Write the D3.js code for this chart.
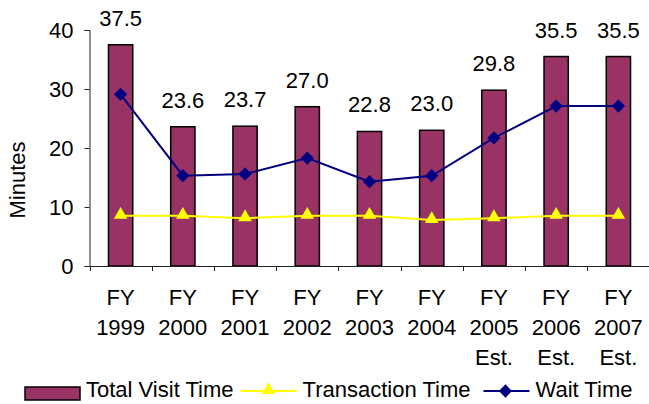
<!DOCTYPE html>
<html lang="en">
<head>
    <meta charset="UTF-8">
    <title>Visit Time</title>
    <script src="https://d3js.org/d3.v7.min.js"></script>
    <style>
        body { margin: 0; background: white; }
        text { font-family: "Liberation Sans", Arial, sans-serif; font-size: 22px; fill: black; }
    </style>
</head>
<body>
<svg width="649" height="404"></svg>
<script>
// chart data
const years = ['1999', '2000', '2001', '2002', '2003', '2004', '2005', '2006', '2007'];
const estimated = [false, false, false, false, false, false, true, true, true];
const totalVisit = [37.5, 23.6, 23.7, 27.0, 22.8, 23.0, 29.8, 35.5, 35.5];
const transaction = [8.5, 8.5, 8.1, 8.5, 8.5, 7.8, 8.1, 8.5, 8.5];
const waitTime = [29.1, 15.3, 15.6, 18.3, 14.3, 15.3, 21.7, 27.1, 27.1];
const yTicks = [0, 10, 20, 30, 40];

const svg = d3.select('svg');

const x = d3.scaleBand()
    .domain(years)
    .range([89.5, 649.5]);

const y = d3.scaleLinear()
    .domain([0, 40])
    .range([266, 30]);

const barW = x.step() * 0.39;
const cx = d => x(d) + x.step() / 2;

// bars
svg.append('g')
    .selectAll('rect')
    .data(years)
    .enter().append('rect')
    .attr('x', d => cx(d) - barW / 2)
    .attr('y', (d, i) => y(totalVisit[i]))
    .attr('width', barW)
    .attr('height', (d, i) => y(0) - y(totalVisit[i]))
    .style('fill', '#993366')
    .style('stroke', 'black')
    .style('stroke-width', 1.5);

// value labels
svg.append('g')
    .selectAll('text')
    .data(years)
    .enter().append('text')
    .attr('x', d => cx(d))
    .attr('y', (d, i) => y(totalVisit[i]) - 19)
    .attr('text-anchor', 'middle')
    .text((d, i) => totalVisit[i].toFixed(1));

// y axis
const yAxis = svg.append('g')
    .attr('transform', 'translate(89.5,0)')
    .call(d3.axisLeft(y).tickValues(yTicks).tickSize(5).tickPadding(11));
yAxis.select('.domain').attr('stroke', '#222');
yAxis.selectAll('.tick line').attr('stroke', '#222');
yAxis.selectAll('.tick text').style('font-size', '22px').attr('font-family', null);

// x axis line and boundary ticks
svg.append('line')
    .attr('x1', x.range()[0]).attr('x2', x.range()[1])
    .attr('y1', y(0) + 0.5).attr('y2', y(0) + 0.5)
    .attr('stroke', '#222');
svg.append('g')
    .selectAll('line')
    .data(years)
    .enter().append('line')
    .attr('x1', d => Math.round(x(d)) + 0.5)
    .attr('x2', d => Math.round(x(d)) + 0.5)
    .attr('y1', y(0))
    .attr('y2', y(0) + 5)
    .attr('stroke', '#222');

// category labels
const cat = svg.append('g')
    .selectAll('text')
    .data(years)
    .enter().append('text')
    .attr('text-anchor', 'middle')
    .attr('x', d => cx(d));
cat.append('tspan').attr('x', d => cx(d)).attr('y', 305).text('FY');
cat.append('tspan').attr('x', d => cx(d)).attr('y', 335).text(d => d);
cat.filter((d, i) => estimated[i])
    .append('tspan').attr('x', d => cx(d)).attr('y', 365).text('Est.');

// y title
svg.append('text')
    .attr('transform', 'translate(25,180) rotate(-90)')
    .attr('text-anchor', 'middle')
    .text('Minutes');

// lines
const line = d3.line()
    .x(d => cx(d[0]))
    .y(d => y(d[1]));

const tri = d3.symbol().type(d3.symbolTriangle).size(80);
const dia = d3.symbol().type(d3.symbolSquare).size(88);

svg.append('path')
    .datum(years.map((d, i) => [d, transaction[i]]))
    .attr('d', line)
    .style('fill', 'none')
    .style('stroke', '#ffff00')
    .style('stroke-width', 2);
svg.append('g')
    .selectAll('path')
    .data(years.map((d, i) => [d, transaction[i]]))
    .enter().append('path')
    .attr('d', tri)
    .attr('transform', d => `translate(${cx(d[0])},${y(d[1]) - 1})`)
    .style('fill', '#ffff00');

svg.append('path')
    .datum(years.map((d, i) => [d, waitTime[i]]))
    .attr('d', line)
    .style('fill', 'none')
    .style('stroke', '#000080')
    .style('stroke-width', 2);
svg.append('g')
    .selectAll('path')
    .data(years.map((d, i) => [d, waitTime[i]]))
    .enter().append('path')
    .attr('d', dia)
    .attr('transform', d => `translate(${cx(d[0])},${y(d[1])}) rotate(45)`)
    .style('fill', '#000080');

// legend, laid out left to right
const legend = svg.append('g');
let lx = 25;
legend.append('rect')
    .attr('x', lx).attr('y', 387).attr('width', 55).attr('height', 13)
    .style('fill', '#993366').style('stroke', 'black').style('stroke-width', 1.5);
lx += 61;
let t = legend.append('text').attr('x', lx).attr('y', 397).text('Total Visit Time');
lx += t.node().getComputedTextLength() + 7;

legend.append('line')
    .attr('x1', lx).attr('x2', lx + 56).attr('y1', 391).attr('y2', 391)
    .style('stroke', '#ffff00').style('stroke-width', 2);
legend.append('path').attr('d', tri)
    .attr('transform', `translate(${lx + 28},390)`).style('fill', '#ffff00');
lx += 62;
t = legend.append('text').attr('x', lx).attr('y', 397).text('Transaction Time');
lx += t.node().getComputedTextLength() + 13;

legend.append('line')
    .attr('x1', lx).attr('x2', lx + 46).attr('y1', 391).attr('y2', 391)
    .style('stroke', '#000080').style('stroke-width', 2);
legend.append('path').attr('d', dia)
    .attr('transform', `translate(${lx + 22},391) rotate(45)`).style('fill', '#000080');
lx += 52;
legend.append('text').attr('x', lx).attr('y', 397).text('Wait Time');
</script>
</body>
</html>
